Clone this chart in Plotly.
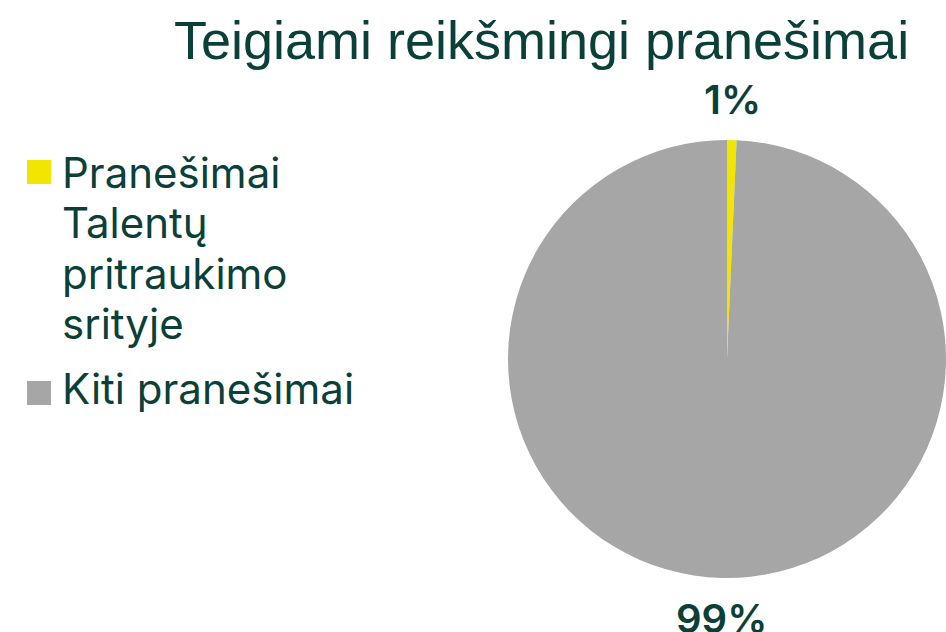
import math
import plotly.graph_objects as go

W, H = 946, 632

title_text = "Teigiami reikšmingi pranešimai"
labels = ["Pranešimai<br>Talentų<br>pritraukimo<br>srityje", "Kiti pranešimai"]
values = [0.7, 99.3]
colors = ["#f2e600", "#a6a6a6"]
text_color = "#0b4038"

def px_x(x):
    return x / W

def px_y(y):
    return 1 - y / H

cx, cy, r = 727, 359, 219

fig = go.Figure()
fig.add_trace(go.Pie(
    labels=labels,
    values=values,
    marker=dict(colors=colors, line=dict(width=0)),
    sort=False,
    direction="clockwise",
    rotation=0,
    textinfo="none",
    showlegend=False,
    domain=dict(x=[px_x(cx - r), px_x(cx + r)], y=[px_y(cy + r), px_y(cy - r)]),
    hoverinfo="label+percent",
))

# percentage labels outside each slice, at the slice mid-angle
total = sum(values)
cum = 0.0
label_r = r + 41
for v in values:
    mid = (cum + v / 2) / total * 2 * math.pi
    cum += v
    lx = cx + label_r * math.sin(mid)
    ly = cy - label_r * math.cos(mid)
    fig.add_annotation(text=f"{round(v / total * 100)}%", xref="paper", yref="paper",
                       x=px_x(lx), y=px_y(ly), xanchor="center", yanchor="middle",
                       showarrow=False,
                       font=dict(family="Inter", size=40, color=text_color, weight=600))

# legend drawn manually (square + one annotation per text line)
leg_size = 42
line_gap = 50.5
leg_first_mid = [172, 388]
sq_tops = [160, 381]
for lab, col, mid0, top in zip(labels, colors, leg_first_mid, sq_tops):
    fig.add_shape(type="rect", xref="paper", yref="paper",
                  x0=px_x(27), x1=px_x(51), y0=px_y(top), y1=px_y(top + 24),
                  fillcolor=col, line=dict(width=0))
    for i, line in enumerate(lab.split("<br>")):
        fig.add_annotation(text=line, xref="paper", yref="paper",
                           x=px_x(60), y=px_y(mid0 + i * line_gap),
                           xanchor="left", yanchor="middle",
                           align="left", showarrow=False,
                           font=dict(family="Inter", size=leg_size, color=text_color))

fig.update_layout(
    width=W, height=H,
    margin=dict(l=0, r=0, t=0, b=0),
    paper_bgcolor="white",
    plot_bgcolor="white",
    title=dict(text=title_text, x=px_x(541.5), xanchor="center", y=px_y(40), yanchor="middle",
               font=dict(family="Liberation Sans", size=54, color=text_color)),
)

fig.write_html(
    "out.html",
    config={"displayModeBar": False},
    post_script="document.body.style.margin='0';document.body.style.overflow='hidden';",
)
